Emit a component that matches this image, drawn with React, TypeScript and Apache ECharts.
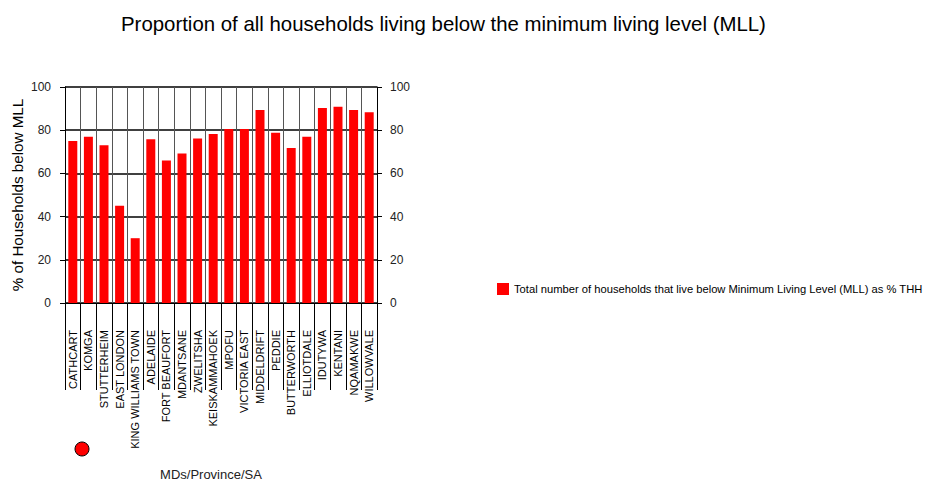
import React, { useEffect, useRef } from "react";
import * as echarts from "echarts";

const categories = [
  "CATHCART", "KOMGA", "STUTTERHEIM", "EAST LONDON", "KING WILLIAMS TOWN",
  "ADELAIDE", "FORT BEAUFORT", "MDANTSANE", "ZWELITSHA", "KEISKAMMAHOEK",
  "MPOFU", "VICTORIA EAST", "MIDDELDRIFT", "PEDDIE", "BUTTERWORTH",
  "ELLIOTDALE", "IDUTYWA", "KENTANI", "NQAMAKWE", "WILLOWVALE",
];
const values = [
  75.0, 77.0, 73.0, 45.0, 30.0,
  75.8, 66.0, 69.2, 76.1, 78.2,
  80.5, 80.5, 89.3, 78.8, 71.8,
  77.0, 90.3, 90.8, 89.4, 88.3,
];
const seriesName = "Total number of households that live below Minimum Living Level (MLL) as % THH";
const titleText = "Proportion of all households living below the minimum living level (MLL)";
const yName = "% of Households below MLL";
const xName = "MDs/Province/SA";

const FONT = "'Liberation Sans', Arial, sans-serif";

export default function App() {
  const ref = useRef<HTMLDivElement>(null);
  useEffect(() => {
    const chart = echarts.init(ref.current!, null, { renderer: "svg" });
    const yAxisCommon = {
      type: "value",
      min: 0,
      max: 100,
      interval: 20,
      axisLine: { show: true, lineStyle: { color: "#000", width: 1 } },
      axisTick: { show: true, length: 5, lineStyle: { color: "#000" } },
      axisLabel: { color: "#222", fontSize: 12, fontFamily: FONT },
    };
    chart.setOption({
      animation: false,
      title: {
        text: titleText,
        left: 116,
        top: 9,
        textStyle: { fontSize: 20.4, fontWeight: "normal", color: "#000", fontFamily: FONT },
      },
      legend: {
        left: 497,
        top: 283,
        padding: 0,
        itemWidth: 12,
        itemHeight: 12,
        itemGap: 5,
        icon: "rect",
        textStyle: { fontSize: 11.2, color: "#000", fontFamily: FONT },
        data: [seriesName],
      },
      grid: {
        left: 65,
        right: 549,
        top: 87,
        bottom: 180,
        containLabel: false,
        outerBoundsMode: "none",
      },
      xAxis: {
        type: "category",
        data: categories,
        name: xName,
        nameLocation: "middle",
        nameGap: 165,
        nameTextStyle: { fontSize: 13, color: "#222", fontFamily: FONT, padding: [0, 20, 0, 0] },
        axisLine: { show: true, lineStyle: { color: "#000" } },
        axisTick: { show: true, length: 87, interval: 0, lineStyle: { color: "#000" } },
        axisLabel: {
          rotate: 90,
          interval: 0,
          margin: 27,
          fontSize: 11,
          color: "#000",
          fontFamily: FONT,
        },
        splitLine: { show: true, interval: 0, lineStyle: { color: "#555", width: 1 } },
      },
      yAxis: [
        {
          ...yAxisCommon,
          position: "left",
          name: yName,
          nameLocation: "middle",
          nameGap: 40,
          nameTextStyle: { fontSize: 15.2, color: "#000", fontFamily: FONT },
          axisLabel: { ...yAxisCommon.axisLabel, margin: 14 },
          splitLine: { show: true, lineStyle: { color: "#000", width: 1.5 } },
        },
        {
          ...yAxisCommon,
          position: "right",
          axisLabel: { ...yAxisCommon.axisLabel, margin: 13 },
          splitLine: { show: false },
        },
      ],
      series: [
        {
          name: seriesName,
          type: "bar",
          data: values,
          barWidth: 9,
          itemStyle: { color: "#ff0000" },
          yAxisIndex: 0,
        },
      ],
      graphic: [
        {
          type: "circle",
          shape: { cx: 82, cy: 449, r: 7 },
          style: { fill: "#ff0000", stroke: "#000", lineWidth: 1 },
        },
      ],
    });
    return () => chart.dispose();
  }, []);
  return (
    <div
      ref={ref}
      style={{ position: "fixed", left: 0, top: 0, width: 926, height: 483, background: "#fff" }}
    />
  );
}
